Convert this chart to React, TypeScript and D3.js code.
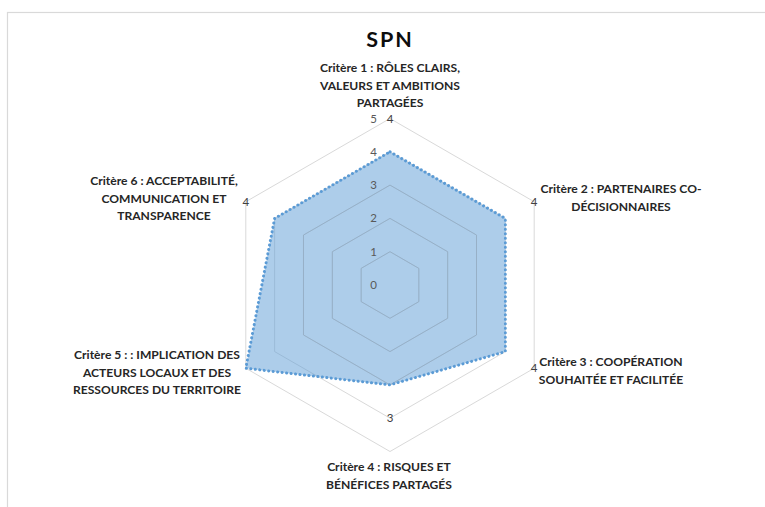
import React from "react";
import * as d3 from "d3";

const title = "SPN";
const categories: string[][] = [
  ["Critère 1 : RÔLES CLAIRS,", "VALEURS ET AMBITIONS", "PARTAGÉES"],
  ["Critère 2 : PARTENAIRES CO-", "DÉCISIONNAIRES"],
  ["Critère 3 : COOPÉRATION", "SOUHAITÉE ET FACILITÉE"],
  ["Critère 4 : RISQUES ET", "BÉNÉFICES PARTAGÉS"],
  ["Critère 5 : : IMPLICATION DES", "ACTEURS LOCAUX ET DES", "RESSOURCES DU TERRITOIRE"],
  ["Critère 6 : ACCEPTABILITÉ,", "COMMUNICATION ET", "TRANSPARENCE"],
];
const values = [4, 4, 4, 3, 5, 4];
const ticks = [0, 1, 2, 3, 4, 5];

// label anchor positions (centre x, first line y) per category
const labelPos: [number, number][] = [
  [390, 72],
  [621, 193],
  [611, 366],
  [389, 471],
  [157, 359],
  [164, 185],
];

export default function App() {
  const W = 765, H = 507;
  const cx = 390, cy = 285;
  const r = d3.scaleLinear().domain([0, 5]).range([0, 166.5]);
  const n = categories.length;
  const angle = (i: number) => (i * 2 * Math.PI) / n;
  const pt = (i: number, v: number): [number, number] => [
    cx + r(v) * Math.sin(angle(i)),
    cy - r(v) * Math.cos(angle(i)),
  ];
  const lineClosed = d3.line<[number, number]>().curve(d3.curveLinearClosed);
  const ringPath = (v: number) => lineClosed(d3.range(n).map((i) => pt(i, v)))!;
  const dataPath = lineClosed(values.map((v, i) => pt(i, v)))!;
  const font = "Lato, 'Open Sans', sans-serif";

  return (
    <svg width={W} height={H} style={{ position: "absolute", left: 0, top: 0, background: "#fff" }}>
      <rect x={7.5} y={12.5} width={900} height={700} fill="#fff" stroke="#d9d9d9" strokeWidth={1.2} />
      <text x={cx} y={47} textAnchor="middle" fontFamily={font} fontWeight={700} fontSize={21.5} letterSpacing={2} fill="#0d0d0d">
        {title}
      </text>
      {ticks.slice(1).map((t) => (
        <path key={t} d={ringPath(t)} fill="none" stroke={t >= 4 ? "#d9d9d9" : "#cfcfcf"} strokeWidth={1} />
      ))}
      <path d={dataPath} fill="#5B9BD5" fillOpacity={0.5} stroke="none" />
      {ticks.slice(1, 4).map((t) => (
        <path key={"g" + t} d={ringPath(t)} fill="none" stroke="#9aa6b2" strokeOpacity={0.35} strokeWidth={1} />
      ))}
      <path d={dataPath} fill="none" stroke="#5B9BD5" strokeWidth={3} strokeDasharray="0.1 4.4" strokeLinecap="round" />
      {ticks.map((t) => (
        <text key={"t" + t} x={cx - 13} y={cy - r(t)} dy="0.35em" textAnchor="end" fontFamily={font} fontSize={11.5} fill="#595959">
          {t}
        </text>
      ))}
      {values.map((v, i) =>
        v < 5 ? (
          <text key={"d" + i} x={pt(i, v + 1)[0]} y={pt(i, v + 1)[1]} dy="0.35em" textAnchor="middle" fontFamily={font} fontSize={11.5} fill="#404040">
            {v}
          </text>
        ) : null
      )}
      {categories.map((lines, i) => (
        <text key={"c" + i} x={labelPos[i][0]} y={labelPos[i][1]} textAnchor="middle" fontFamily={font} fontWeight={700} fontSize={12.1} fill="#262626">
          {lines.map((l, j) => (
            <tspan key={j} x={labelPos[i][0]} dy={j === 0 ? 0 : 17.5}>
              {l.normalize("NFC")}
            </tspan>
          ))}
        </text>
      ))}
    </svg>
  );
}
